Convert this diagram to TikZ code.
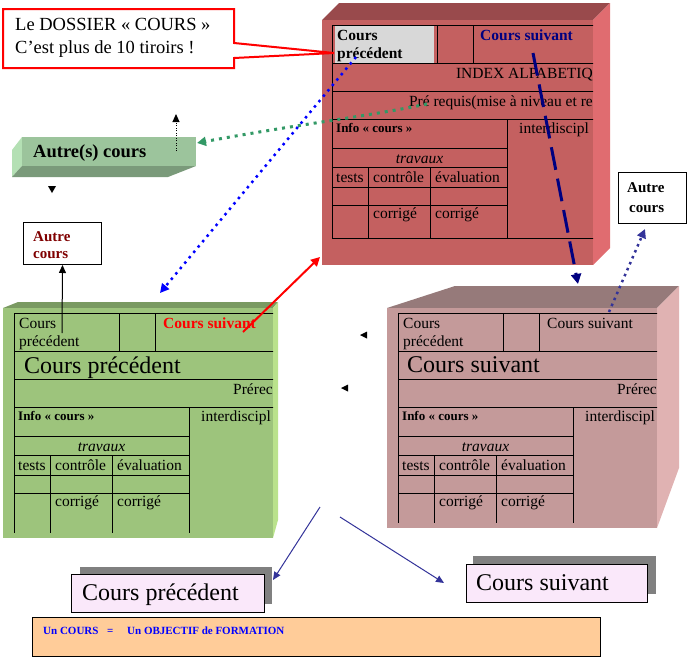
\documentclass[tikz,border=0pt]{standalone}
\usepackage{fontspec}
\setmainfont{Liberation Serif}
\usetikzlibrary{arrows.meta}
\newcommand\fsz[1]{\fontsize{#1pt}{#1pt}\selectfont}
\definecolor{redfront}{RGB}{196,96,96}
\definecolor{redtop}{RGB}{153,74,76}
\definecolor{redside}{RGB}{224,108,112}
\definecolor{grnfront}{RGB}{157,196,124}
\definecolor{grntop}{RGB}{122,154,98}
\definecolor{grnside}{RGB}{186,226,140}
\definecolor{pnkfront}{RGB}{196,154,154}
\definecolor{pnktop}{RGB}{150,122,122}
\definecolor{pnkside}{RGB}{224,178,178}
\definecolor{barfront}{RGB}{156,196,156}
\definecolor{barleft}{RGB}{180,224,180}
\definecolor{barbottom}{RGB}{122,154,122}
\definecolor{cellgray}{RGB}{216,216,216}
\definecolor{lav}{RGB}{250,232,250}
\definecolor{shadowgray}{RGB}{128,128,128}
\definecolor{peach}{RGB}{255,204,153}
\definecolor{seagrn}{RGB}{51,153,102}
\definecolor{navy}{RGB}{0,0,128}
\definecolor{slate}{RGB}{51,51,153}
\definecolor{darkred}{RGB}{128,0,0}
% common grid of a "cours" card; #1 = bottom (relative), #2 = name prefix
\newcommand\tablegrid[2]{%
  \draw[tbl] (0,0) -- (420,0) (0,38) -- (420,38) (0,66) -- (420,66) (0,94) -- (420,94)
    (0,123) -- (175,123) (0,142) -- (175,142) (0,162) -- (175,162) (0,180) -- (175,180)
    (0,0) -- (0,#1) (105,0) -- (105,38) (141,0) -- (141,38)
    (175,94) -- (175,#1) (36,142) -- (36,#1) (98,142) -- (98,#1);
  \node[tx,font=\bfseries\fsz{13}] (#2-info) at (4,107) {Info « cours »};
  \node[tx] (#2-inter) at (187,108) {interdiscipl};
  \node[tx,anchor=base,font=\itshape\fsz{15.5}] (#2-trav) at (87.5,138) {travaux};
  \node[tx] (#2-tests) at (4,157) {tests};
  \node[tx] (#2-ctrl) at (41,157) {contrôle};
  \node[tx] (#2-eval) at (103,157) {évaluation};
  \node[tx] (#2-corrA) at (41,193) {corrigé};
  \node[tx] (#2-corrB) at (103,193) {corrigé};
}
\begin{document}
\begin{tikzpicture}[x=1pt,y=-1pt,
  tx/.style={anchor=base west,inner sep=0pt,font=\fsz{15.5}},
  tbl/.style={draw=black,line width=1pt},
  facebox/.style={inner sep=0pt,anchor=north west},
  arr/.style={-{Triangle[length=9pt,width=9pt]}},
  smallarr/.style={-{Triangle[length=8pt,width=7pt]}},
  btx/.style={tx,font=\bfseries\fsz{15}},
]
\useasboundingbox (0,0) rectangle (689,659);

% ---------- red card (current course) ----------
\fill[redtop] (322,20) -- (339,3) -- (610,3) -- (593,20) -- cycle;
\fill[redside] (593,20) -- (610,3) -- (610,248) -- (593,265) -- cycle;
\node[facebox,fill=redfront,minimum width=271pt,minimum height=245pt] (redbox) at (322,20) {};
\begin{scope}
  \clip (322,20) rectangle (593,265);
  \fill[cellgray] (335,26) rectangle (434,63);
  \begin{scope}[shift={(332,25)}]
    \tablegrid{213}{r}
    \draw[tbl] (0,213) -- (420,213);
    \node[tx,font=\bfseries\fsz{15.5}] (r-c1a) at (5,15) {Cours};
    \node[tx,font=\bfseries\fsz{15.5}] (r-c1b) at (5,33) {précédent};
    \node[tx,font=\bfseries\fsz{15.5},text=navy] (r-c3) at (148,15) {Cours suivant};
    \node[tx,anchor=base east] (r-row2) at (261,53) {INDEX ALPABETIQ};
    \node[tx,anchor=base east] (r-row3) at (261,81) {Pré requis(mise à niveau et re};
  \end{scope}
\end{scope}

% ---------- green card (previous course) ----------
\fill[grntop] (3,308) -- (18,302) -- (278,302) -- (273,308) -- cycle;
\fill[grnside] (273,308) -- (278,302) -- (278,520) -- (273,538) -- cycle;
\node[facebox,fill=grnfront,minimum width=270pt,minimum height=230pt] (grnbox) at (3,308) {};
\begin{scope}
  \clip (3,308) rectangle (273,538);
  \begin{scope}[shift={(14,313)}]
    \tablegrid{220}{g}
    \node[tx] (g-c1a) at (5,15) {Cours};
    \node[tx] (g-c1b) at (5,33) {précédent};
    \node[tx,font=\bfseries\fsz{15.5},text=red] (g-c3) at (149,15) {Cours suivant};
    \node[tx,font=\fsz{24}] (g-row2) at (10,60) {Cours précédent};
    \node[tx,anchor=base east] (g-row3) at (259,81) {Prérec};
  \end{scope}
\end{scope}

% ---------- pink card (next course) ----------
\fill[pnktop] (387,308) -- (455,286) -- (679,286) -- (657,308) -- cycle;
\fill[pnkside] (657,308) -- (679,286) -- (679,468) -- (657,528) -- cycle;
\node[facebox,fill=pnkfront,minimum width=270pt,minimum height=220pt] (pnkbox) at (387,308) {};
\begin{scope}
  \clip (387,308) rectangle (657,528);
  \begin{scope}[shift={(398,313)}]
    \tablegrid{210}{p}
    \node[tx] (p-c1a) at (5,15) {Cours};
    \node[tx] (p-c1b) at (5,33) {précédent};
    \node[tx] (p-c3) at (149,15) {Cours suivant};
    \node[tx,font=\fsz{24}] (p-row2) at (9,59) {Cours suivant};
    \node[tx,anchor=base east] (p-row3) at (259,81) {Prérec};
  \end{scope}
\end{scope}

% ---------- Autre(s) cours bar ----------
\fill[barleft] (12,150) -- (22,137) -- (22,166) -- (12,177) -- cycle;
\fill[barbottom] (12,177) -- (22,166) -- (196,166) -- (168,177) -- cycle;
\node[facebox,fill=barfront,minimum width=174pt,minimum height=29pt] (autres) at (22,137) {};
\node[tx,font=\bfseries\fsz{18.5}] (autres-t) at (33,157) {Autre(s) cours};

% ---------- callout ----------
\draw[red,line width=2pt,fill=white,line join=miter]
  (3,9) -- (234,9) -- (234,43) -- (334,53) -- (234,58) -- (234,68) -- (3,68) -- cycle;
\coordinate (callout-tip) at (334,53);
\node[tx,font=\fsz{18.5}] (call1) at (15,30) {Le DOSSIER « COURS »};
\node[tx,font=\fsz{18.5}] (call2) at (15,53) {C’est plus de 10 tiroirs !};

% ---------- small "Autre cours" boxes ----------
\node[facebox,draw=black,line width=1pt,fill=white,minimum width=68pt,minimum height=51pt] (autreR) at (618,172) {};
\node[btx] (autreR-a) at (627,192) {Autre};
\node[btx] (autreR-b) at (629,212) {cours};
\node[facebox,draw=black,line width=1pt,fill=white,minimum width=78pt,minimum height=42pt] (autreL) at (23,222) {};
\node[btx,text=darkred] (autreL-a) at (33,241) {Autre};
\node[btx,text=darkred] (autreL-b) at (33,258) {cours};

% ---------- bottom labels ----------
\fill[shadowgray] (80,567) rectangle (272,604);
\node[facebox,draw=black,line width=1pt,fill=lav,minimum width=193pt,minimum height=38pt] (prevbox) at (71,574) {};
\node[tx,font=\fsz{24}] (prev-t) at (82,600) {Cours précédent};
\fill[shadowgray] (473,556) rectangle (656,594);
\node[facebox,draw=black,line width=1pt,fill=lav,minimum width=181pt,minimum height=38pt] (nextbox) at (466,564) {};
\node[tx,font=\fsz{24}] (next-t) at (476,590) {Cours suivant};

\node[facebox,draw=black,line width=1pt,fill=peach,minimum width=568pt,minimum height=39pt] (goal) at (32,617) {};
\node[tx,font=\bfseries\fsz{11},text=blue] (goal-a) at (43,634) {Un COURS};
\node[tx,font=\bfseries\fsz{11},text=blue] (goal-b) at (107,634) {=};
\node[tx,font=\bfseries\fsz{11},text=blue] (goal-c) at (127,634) {Un OBJECTIF de FORMATION};

% ---------- connectors ----------
\coordinate (ra-s) at (243,332); \coordinate (ra-e) at (320,257);
\draw[red,line width=2pt,arr] (ra-s) -- (ra-e);

\coordinate (bd-s) at (356,57); \coordinate (bd-e) at (160,293);
\draw[blue,line width=2.5pt,dash pattern=on 2.5pt off 4.5pt,arr] (bd-s) -- (bd-e);

\coordinate (gd-s) at (427,104); \coordinate (gd-e) at (197,143);
\draw[seagrn,line width=3pt,dash pattern=on 3pt off 5pt,arr]
  (gd-s) .. controls (370,116) and (300,124) .. (gd-e);

\coordinate (nd-s) at (533,53); \coordinate (nd-e) at (578,284);
\draw[navy,line width=3pt,dash pattern=on 23pt off 9pt,-{Triangle[length=10pt,width=10pt]}] (nd-s) -- (nd-e);

\coordinate (sd-s) at (609,312); \coordinate (sd-e) at (645,229);
\draw[slate,line width=2.5pt,dash pattern=on 2.5pt off 4pt,arr] (sd-s) -- (sd-e);

\coordinate (la-s) at (62,333);
\draw[black,line width=1pt,smallarr] (la-s) -- (autreL.south);

\coordinate (sm-s) at (176,151); \coordinate (sm-e) at (176,114);
\draw[black,line width=1pt,dash pattern=on 1pt off 1.5pt,smallarr] (sm-s) -- (sm-e);

\coordinate (ta1-s) at (320,507); \coordinate (ta1-e) at (273,580);
\draw[slate,line width=1pt,smallarr] (ta1-s) -- (ta1-e);
\coordinate (ta2-s) at (340,517); \coordinate (ta2-e) at (444,583);
\draw[slate,line width=1pt,smallarr] (ta2-s) -- (ta2-e);

% lone arrow heads
\fill[black] (48,186) -- (56,186) -- (52,193) -- cycle;
\fill[black] (360,335) -- (367,331.5) -- (367,338.5) -- cycle;
\fill[black] (341,388) -- (348,384.5) -- (348,391.5) -- cycle;
\end{tikzpicture}
\end{document}
